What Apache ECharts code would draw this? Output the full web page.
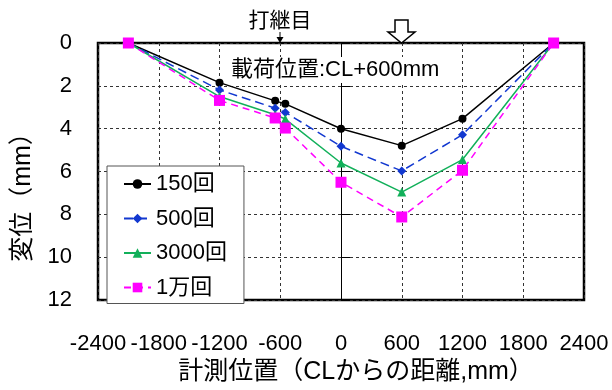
<!DOCTYPE html>
<html><head><meta charset="utf-8">
<script src="https://cdn.jsdelivr.net/npm/echarts@6/dist/echarts.min.js"></script>
<style>html,body{margin:0;padding:0;background:#fff}#c{width:612px;height:390px}</style>
</head><body><div id="c"></div>
<script>
// ---- data ----
const positions = [-2100, -1200, -650, -550, 0, 600, 1200, 2100];
const seriesNames = ['150回', '500回', '3000回', '1万回'];
const disp150 = [0, 1.85, 2.70, 2.84, 4.00, 4.79, 3.53, 0];
const disp500 = [0, 2.19, 3.04, 3.24, 4.82, 5.97, 4.28, 0];
const disp3000 = [0, 2.50, 3.35, 3.55, 5.60, 6.96, 5.44, 0];
const disp10000 = [0, 2.68, 3.50, 3.97, 6.50, 8.12, 5.94, 0];
const xTitle = '計測位置（CLからの距離,mm）';
const yTitle = '変位（mm）';
const loadLabel = '載荷位置:CL+600mm';
const jointLabel = '打継目';

const FONT = "'Liberation Sans', Arial, 'Noto Sans CJK JP', sans-serif";
const pair = arr => positions.map((x, i) => [x, arr[i]]);

const styles = [
  {color: '#000000', type: 'solid', symbol: 'circle', size: 8},
  {color: '#1238d0', type: [9, 5], symbol: 'diamond', size: 9},
  {color: '#12b05a', type: 'solid', symbol: 'triangle', size: 9},
  {color: '#ff00ff', type: [7, 5], symbol: 'rect', size: 11}
];
const values = [disp150, disp500, disp3000, disp10000];

const chart = echarts.init(document.getElementById('c'), null, {renderer: 'canvas'});
chart.setOption({
  animation: false,
  backgroundColor: '#fff',
  textStyle: {fontFamily: FONT},
  grid: {left: 98, right: 28, top: 43, bottom: 88, show: true,
         borderColor: '#000', borderWidth: 2.5, backgroundColor: 'transparent'},
  xAxis: {
    type: 'value', min: -2400, max: 2400, interval: 600,
    axisLine: {show: false}, axisTick: {show: false},
    axisLabel: {color: '#000', fontSize: 22, margin: 33, fontFamily: FONT,
                showMinLabel: true, showMaxLabel: true, hideOverlap: false,
                formatter: v => String(v)},
    splitLine: {show: true, lineStyle: {color: '#333', type: [3, 3], width: 1}},
    name: xTitle, nameLocation: 'middle', nameGap: 56,
    nameTextStyle: {color: '#000', fontSize: 25, fontFamily: FONT, padding: [0, 0, 0, 30]}
  },
  yAxis: [{
    type: 'value', min: 0, max: 12, interval: 2, inverse: true, position: 'left',
    axisLine: {show: false, onZero: false}, axisTick: {show: false},
    axisLabel: {color: '#000', fontSize: 22, margin: 26, fontFamily: FONT},
    splitLine: {show: true, lineStyle: {color: '#333', type: [3, 3], width: 1}}
  }, {
    type: 'value', min: 0, max: 12, interval: 2, inverse: true, position: 'right',
    axisLine: {show: true, onZero: true, lineStyle: {color: '#000', width: 1}},
    axisTick: {show: true, inside: false, length: 9, lineStyle: {color: '#000', width: 1}},
    axisLabel: {show: false}, splitLine: {show: false}
  }],
  legend: {
    orient: 'vertical', left: 107, top: 166,
    padding: [7, 17, 5, 16], itemGap: 12.5, itemWidth: 27, itemHeight: 12,
    backgroundColor: '#fff', borderColor: '#555', borderWidth: 1,
    textStyle: {color: '#000', fontSize: 22, fontFamily: FONT},
    data: seriesNames
  },
  series: seriesNames.map((name, i) => ({
    name, type: 'line', yAxisIndex: 0,
    data: pair(values[i]),
    symbol: styles[i].symbol, symbolSize: styles[i].size,
    lineStyle: {color: styles[i].color, width: 1.5, type: styles[i].type},
    itemStyle: {color: styles[i].color},
    z: 3 + i
  })),
  graphic: [
    {type: 'text', left: 229, top: 57, z: 50,
     style: {text: loadLabel, font: '22px ' + FONT, fill: '#000',
             backgroundColor: '#fff', padding: [2, 2, 2, 2]}},
    {type: 'text', x: 280, y: 21, z: 50,
     style: {text: jointLabel, font: '21px ' + FONT, fill: '#000', align: 'center', verticalAlign: 'middle'}},
    {type: 'line', z: 50, shape: {x1: 280, y1: 32, x2: 280, y2: 38}, style: {stroke: '#000', lineWidth: 1}},
    {type: 'polygon', z: 50, shape: {points: [[276.5, 37], [283.5, 37], [280, 43]]}, style: {fill: '#000'}},
    {type: 'polygon', z: 50,
     shape: {points: [[395, 20], [408, 20], [408, 32], [415, 32], [401.5, 43], [388, 32], [395, 32]]},
     style: {fill: '#fff', stroke: '#000', lineWidth: 1.5}},
    {type: 'text', x: 23, y: 191, rotation: Math.PI / 2, z: 50,
     style: {text: yTitle, font: '25px ' + FONT, fill: '#000', align: 'center', verticalAlign: 'middle'}}
  ]
});
</script></body></html>
